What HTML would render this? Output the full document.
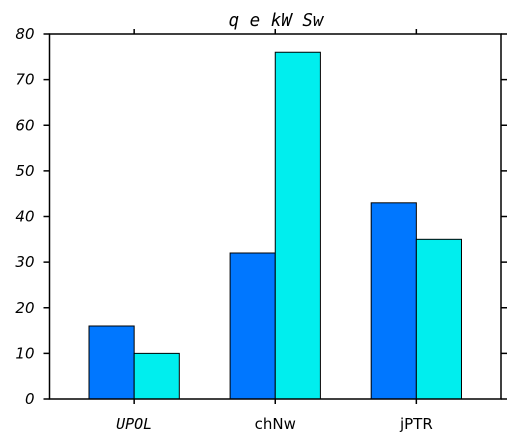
<!DOCTYPE html>
<html><head><meta charset="utf-8"><style>body{margin:0;background:#fff}svg{display:block}</style></head>
<body>
<svg id="chart" width="518" height="444" xmlns="http://www.w3.org/2000/svg" font-family="'DejaVu Sans','Liberation Sans',sans-serif">
<text x="276" y="26" text-anchor="middle" font-family="'DejaVu Sans Mono','Liberation Mono',monospace" font-style="italic" font-size="17.5">q e kW Sw</text>
<g id="bars"></g>
<g id="axes"></g>
</svg>
<script>
const categories = ["UPOL","chNw","jPTR"];
const catItalic = [true,false,false];
const series1 = [16,32,43];
const series2 = [10,76,35];
const yTicks = [0,10,20,30,40,50,60,70,80];
const L=49.5,R=501,T=34,B=399;
const ns="http://www.w3.org/2000/svg";
function y(v){return B-(v/80)*(B-T);}
function x(c){return L+(c+0.6)*(R-L)/3.2;}
const bw=0.32*(R-L)/3.2;
function mk(tag,attrs,parent){const e=document.createElementNS(ns,tag);for(const k in attrs)e.setAttribute(k,attrs[k]);parent.appendChild(e);return e;}
const bars=document.getElementById('bars'),axes=document.getElementById('axes');
categories.forEach((c,i)=>{
  const cx=x(i);
  const r1=mk('rect',{x:cx-bw,y:y(series1[i]),width:bw,height:B-y(series1[i]),fill:'#0077ff',stroke:'#000','stroke-width':1},bars);
  
  
  const r2=mk('rect',{x:cx,y:y(series2[i]),width:bw,height:B-y(series2[i]),fill:'#00eeee',stroke:'#000','stroke-width':1},bars);
  
  
  mk('line',{x1:cx,x2:cx,y1:B,y2:B+5,stroke:'#000','stroke-width':1.5},axes);
  mk('line',{x1:cx,x2:cx,y1:T,y2:T-5,stroke:'#000','stroke-width':1.5},axes);
  const t=mk('text',{x:cx,y:B+30,'text-anchor':'middle','font-size':15,'font-style':catItalic[i]?'italic':'normal'},axes);
  if(catItalic[i])t.setAttribute('font-family',"'DejaVu Sans Mono','Liberation Mono',monospace");
  t.textContent=c;
  
  
});
yTicks.forEach(v=>{
  const yy=y(v);
  mk('line',{x1:L-6,x2:L,y1:yy,y2:yy,stroke:'#000','stroke-width':1.5},axes);
  mk('line',{x1:R,x2:R+6,y1:yy,y2:yy,stroke:'#000','stroke-width':1.5},axes);
  const t=mk('text',{x:L-15,y:yy+5,'text-anchor':'end','font-size':15,'font-style':'italic'},axes);
  t.textContent=v;
  
  
});
const fr=mk('rect',{x:L,y:T,width:R-L,height:B-T,fill:'none',stroke:'#000','stroke-width':1.5},axes);


</script>
</body></html>
